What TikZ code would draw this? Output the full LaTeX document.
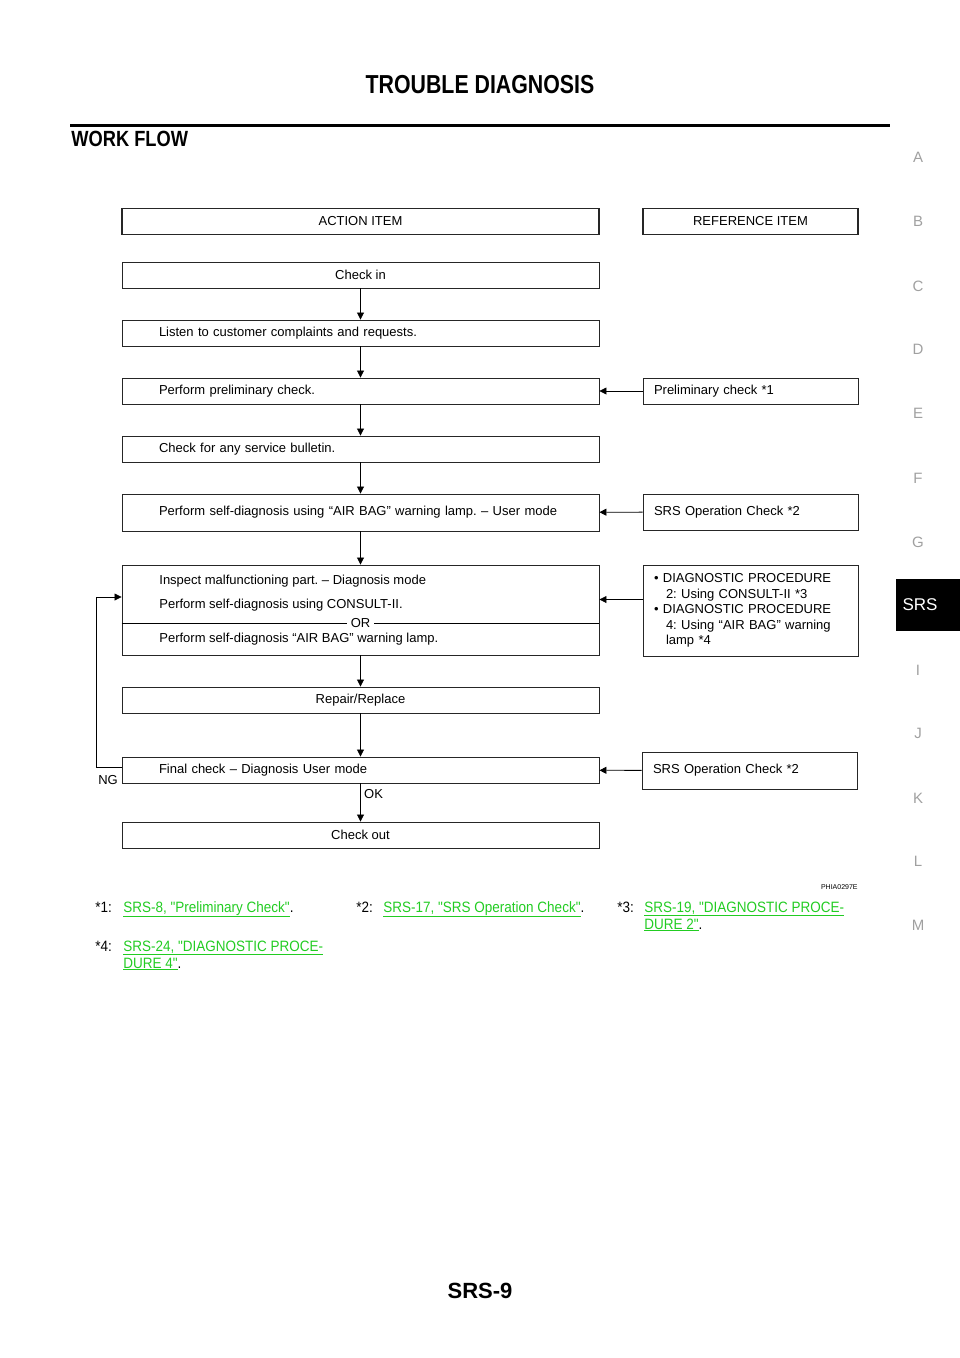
\documentclass[tikz,border=0pt]{standalone}
\usepackage{fontspec}
\setmainfont{Liberation Sans}
\newfontfamily\notefamily{Liberation Sans}[Ligatures=TeXOff]
\usetikzlibrary{arrows.meta}
\definecolor{linkgreen}{HTML}{22CC22}
\definecolor{sidegray}{HTML}{A0A0A0}
\frenchspacing
\newcommand{\boxfont}{\fontsize{13}{15.5}\selectfont}
\newcommand{\notefont}{\notefamily\fontsize{15}{17}\selectfont}
\newcommand{\sidefont}{\fontsize{15}{17}\selectfont}
\newcommand{\srslink}[1]{\textcolor{linkgreen}{\underline{#1}}}
\tikzset{
  flowbox/.style={draw=black!85, line width=0.9pt, minimum width=477pt, minimum height=26pt, inner sep=0pt, font=\boxfont},
  textbox/.style={flowbox, text width=403pt, align=left},
  headbox/.style={line width=1.8pt},
  refbox/.style={draw=black!85, line width=0.9pt, minimum width=215pt, minimum height=26pt, text width=193pt, align=left, inner sep=0pt, font=\boxfont},
  boxtext/.style={anchor=west, inner sep=0pt, font=\boxfont},
  sideletter/.style={text=sidegray, font=\sidefont},
  note/.style={anchor=base west, inner sep=0pt, font=\notefont}
}

\begin{document}
\begin{tikzpicture}[x=1pt, y=-1pt, >={Triangle[length=7pt,width=7pt]}, line width=0.8pt]
    \useasboundingbox (0,0) rectangle (960,1358);

    \node[font=\fontsize{26}{30}\selectfont\bfseries] (title) at (480,85) {\scalebox{0.82}[1]{TROUBLE DIAGNOSIS}};
    \draw[line width=3pt] (70,125) -- (890,125);
    \node[anchor=west, inner sep=0pt, font=\fontsize{22}{26}\selectfont\bfseries] (workflow) at (71,139) {\scalebox{0.83}[1]{WORK FLOW}};

    \node[flowbox, headbox] (acthead) at (360.5,221.5) {ACTION ITEM};
    \node[flowbox, headbox, minimum width=215pt] (refhead) at (750.5,221.5) {REFERENCE ITEM};

    \node[flowbox] (checkin) at (360.5,275) {Check in};
    \node[textbox] (listen) at (360.5,333) {Listen to customer complaints and requests.};
    \node[textbox] (prelim) at (360.5,391) {Perform preliminary check.};
    \node[textbox] (bulletin) at (360.5,449) {Check for any service bulletin.};
    \node[textbox, minimum height=37pt] (usermode) at (360.5,512.5) {\mbox{Perform self-diagnosis using “AIR BAG” warning lamp. -- User mode}};
    \node[flowbox, minimum height=90pt] (diag) at (360.5,610) {};
    \node[boxtext] (inspect) at (159,581) {Inspect malfunctioning part. -- Diagnosis mode};
    \node[boxtext] (consult) at (159,605) {Perform self-diagnosis using CONSULT-II.};
    \draw[line width=0.6pt] (diag.west |- 0,623) -- node[fill=white, font=\boxfont, inner xsep=4pt, inner ysep=0pt] (ortext) {OR} (diag.east |- 0,623);
    \node[boxtext] (airbag) at (159,639) {Perform self-diagnosis “AIR BAG” warning lamp.};
    \node[flowbox] (repair) at (360.5,700) {Repair/Replace};
    \node[textbox] (final) at (360.5,770) {Final check -- Diagnosis User mode};
    \node[flowbox] (checkout) at (360.5,835) {Check out};

    \node[refbox] (prelref) at (750.5,391) {Preliminary check *1};
    \node[refbox, minimum height=36pt] (srsref) at (750.5,512) {SRS Operation Check *2};
    \node[refbox, minimum height=91pt] (diagref) at (750.5,610.5) {\textbullet{} DIAGNOSTIC PROCEDURE\\\hspace*{12pt}2: Using CONSULT-II *3\\\textbullet{} DIAGNOSTIC PROCEDURE\\\hspace*{12pt}4: Using “AIR BAG” warning\\\hspace*{12pt}lamp *4};
    \node[refbox, minimum height=37pt] (finalref) at (749.5,770.5) {SRS Operation Check *2};

    \draw[->] (checkin) -- (listen);
    \draw[->] (listen) -- (prelim);
    \draw[->] (prelim) -- (bulletin);
    \draw[->] (bulletin) -- (usermode);
    \draw[->] (usermode) -- (diag);
    \draw[->] (diag) -- (repair);
    \draw[->] (repair) -- (final);
    \draw[->] (final) -- node[pos=0.28, right, font=\boxfont] (ok) {OK} (checkout);

    \draw[->] (prelref) -- (prelim);
    \draw[->] (srsref) -- (usermode);
    \coordinate (diagin) at ([yshift=11pt]diagref.west);
    \draw[->] (diagin) -- (diagin -| diag.east);
    \draw[->] (finalref) -- (final);

    \draw[->] ([yshift=3pt]final.west) -- ++(-25,0) |- ([yshift=13pt]diag.west);
    \node[font=\boxfont] (ng) at (108,780) {NG};

    \node[anchor=east, inner sep=0pt, font=\fontsize{7}{8}\selectfont] (figid) at (858,887) {PHIA0297E};

    \node[note] (n1) at (95,912) {\scalebox{0.9}[1]{*1:}};
    \node[note] (l1) at (123,912) {\scalebox{0.9}[1]{\srslink{SRS-8, "Preliminary Check"}.}};
    \node[note] (n2) at (356,912) {\scalebox{0.9}[1]{*2:}};
    \node[note] (l2) at (383,912) {\scalebox{0.9}[1]{\srslink{SRS-17, "SRS Operation Check"}.}};
    \node[note] (n3) at (617,912) {\scalebox{0.9}[1]{*3:}};
    \node[note] (l3) at (644,912) {\scalebox{0.9}[1]{\srslink{SRS-19, "DIAGNOSTIC PROCE-}}};
    \node[note] (l3b) at (644,929) {\scalebox{0.9}[1]{\srslink{DURE 2"}.}};
    \node[note] (n4) at (95,951) {\scalebox{0.9}[1]{*4:}};
    \node[note] (l4) at (123,951) {\scalebox{0.9}[1]{\srslink{SRS-24, "DIAGNOSTIC PROCE-}}};
    \node[note] (l4b) at (123,968) {\scalebox{0.9}[1]{\srslink{DURE 4"}.}};

    \node[sideletter] (sa) at (918,157) {A};
    \node[sideletter] (sb) at (918,221) {B};
    \node[sideletter] (sc) at (918,286) {C};
    \node[sideletter] (sd) at (918,349) {D};
    \node[sideletter] (se) at (918,413) {E};
    \node[sideletter] (sf) at (918,478) {F};
    \node[sideletter] (sg) at (918,542) {G};
    \fill (896,579) rectangle (960,631);
    \node[text=white, font=\fontsize{17}{20}\selectfont] (srstab) at (920,605) {SRS};
    \node[sideletter] (si) at (918,670) {I};
    \node[sideletter] (sj) at (918,733) {J};
    \node[sideletter] (sk) at (918,798) {K};
    \node[sideletter] (sl) at (918,861) {L};
    \node[sideletter] (sm) at (918,925) {M};

    \node[font=\fontsize{22}{26}\selectfont\bfseries] (pageno) at (480,1291) {SRS-9};
\end{tikzpicture}
\end{document}
